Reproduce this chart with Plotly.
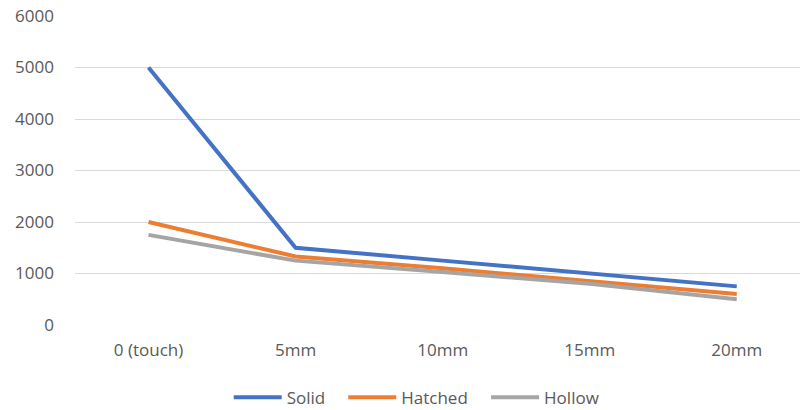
import plotly.graph_objects as go

categories = ["0 (touch)", "5mm", "10mm", "15mm", "20mm"]
solid = [5000, 1500, 1250, 1000, 750]
hatched = [2000, 1330, 1100, 850, 600]
hollow = [1750, 1250, 1030, 800, 500]
y_ticks = [0, 1000, 2000, 3000, 4000, 5000, 6000]

series = [("Solid", solid, "#4472C4"), ("Hatched", hatched, "#ED7D31"), ("Hollow", hollow, "#A5A5A5")]
legend_names = ["legend", "legend2", "legend3"]
legend_x = [0.212, 0.370, 0.567]

fig = go.Figure()
for (name, vals, col), lg in zip(series, legend_names):
    fig.add_trace(go.Scatter(x=categories, y=vals, mode="lines", name=name, legend=lg,
                             line=dict(color=col, width=4)))

font = dict(family="Open Sans, Liberation Sans, sans-serif", size=17, color="#595959")
layout_legends = {}
for lg, lx in zip(legend_names, legend_x):
    layout_legends[lg] = dict(orientation="h", x=lx, xanchor="left", y=-0.235, yanchor="middle",
                              font=dict(size=17, color="#595959"), itemwidth=48,
                              bgcolor="rgba(0,0,0,0)")
fig.update_layout(
    width=800, height=410,
    margin=dict(l=75, r=0, t=16, b=85, autoexpand=False),
    paper_bgcolor="white", plot_bgcolor="white",
    font=font,
    showlegend=True,
    xaxis=dict(type="category", range=[-0.5, 4.43], showgrid=False, zeroline=False,
               showline=False, ticks="", ticklabelstandoff=13, automargin=False),
    yaxis=dict(range=[0, 6000], tickvals=y_ticks, showgrid=True, gridcolor="#D9D9D9",
               gridwidth=1, zeroline=False, showline=False, ticks="", ticklabelstandoff=20,
               automargin=False, ticklabeloverflow="allow"),
    **layout_legends,
)
fig.write_html("out.html", config={"displayModeBar": False},
               post_script="document.body.style.margin='0';")
